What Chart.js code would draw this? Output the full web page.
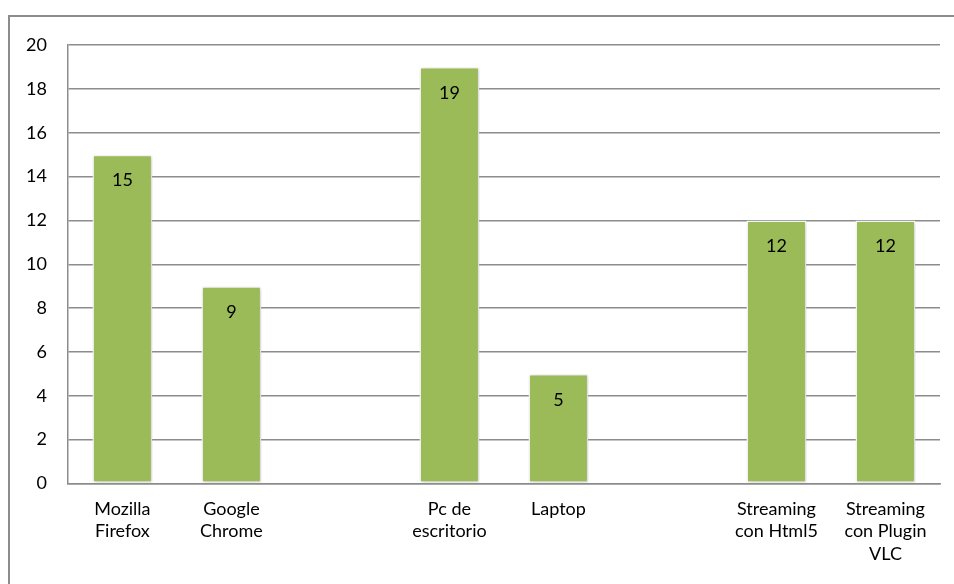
<!DOCTYPE html>
<html>
<head>
<meta charset="utf-8">
<script src="https://cdn.jsdelivr.net/npm/chart.js@4/dist/chart.umd.min.js"></script>
<style>
  html, body { margin: 0; padding: 0; background: #fff; }
  #wrap { position: relative; width: 954px; height: 584px; overflow: hidden; }
  #frame { position: absolute; left: 8px; top: 15px; width: 960px; height: 600px;
           border-top: 2px solid #8c8c8c; border-left: 2px solid #8c8c8c; }
  canvas { position: absolute; left: 0; top: 0; }
</style>
</head>
<body>
<div id="wrap">
  <div id="frame"></div>
  <canvas id="chart" width="954" height="584"></canvas>
</div>
<script>
// categorias (las vacias dejan el hueco entre grupos)
var categorias = [
  ['Mozilla', 'Firefox'],
  ['Google', 'Chrome'],
  '',
  ['Pc de', 'escritorio'],
  'Laptop',
  '',
  ['Streaming', 'con Html5'],
  ['Streaming', 'con Plugin', 'VLC']
];
var valores = [15, 9, null, 19, 5, null, 12, 12];
var ticksY = [0, 2, 4, 6, 8, 10, 12, 14, 16, 18, 20];

var fuente = 'Lato, "Open Sans", sans-serif';

// etiqueta de valor dentro de la barra, arriba
var etiquetas = {
  id: 'etiquetas',
  afterDatasetsDraw: function (chart) {
    var ctx = chart.ctx;
    var meta = chart.getDatasetMeta(0);
    ctx.save();
    ctx.fillStyle = '#000';
    ctx.font = '18px ' + fuente;
    ctx.textAlign = 'center';
    ctx.textBaseline = 'middle';
    meta.data.forEach(function (bar, i) {
      if (valores[i] == null) return;
      ctx.fillText(String(valores[i]), bar.x, bar.y + 26);
    });
    ctx.restore();
  }
};

// sombra suave de las barras
var sombra = {
  id: 'sombra',
  beforeDatasetsDraw: function (chart) {
    var ctx = chart.ctx;
    ctx.save();
    ctx.shadowColor = 'rgba(0,0,0,0.22)';
    ctx.shadowBlur = 4;
    ctx.shadowOffsetX = 1;
    ctx.shadowOffsetY = 1;
  },
  afterDatasetsDraw: function (chart) {
    chart.ctx.restore();
  }
};

var ctx = document.getElementById('chart').getContext('2d');
new Chart(ctx, {
  type: 'bar',
  data: {
    labels: categorias,
    datasets: [{
      data: valores,
      backgroundColor: '#9bbb59',
      borderColor: '#ffffff',
      borderWidth: 1.5,
      borderSkipped: false,
      categoryPercentage: 1,
      barPercentage: 0.55
    }]
  },
  options: {
    responsive: false,
    animation: false,
    events: [],
    layout: { padding: { left: 5, right: 14, top: 45, bottom: 5 } },
    plugins: {
      legend: { display: false },
      tooltip: { enabled: false }
    },
    scales: {
      x: {
        grid: { display: false, drawTicks: false },
        border: { display: true, color: '#8c8c8c', width: 1.5 },
        ticks: {
          color: '#000',
          padding: 14,
          maxRotation: 0,
          autoSkip: false,
          font: { family: fuente, size: 18, lineHeight: 1.25 }
        }
      },
      y: {
        min: 0,
        max: 20,
        afterBuildTicks: function (axis) {
          axis.ticks = ticksY.map(function (v) { return { value: v }; });
        },
        grid: { color: '#8c8c8c', lineWidth: 1.5, drawTicks: false },
        border: { display: true, color: '#8c8c8c', width: 1.5 },
        ticks: {
          color: '#000',
          padding: 21,
          font: { family: fuente, size: 18 }
        }
      }
    }
  },
  plugins: [sombra, etiquetas]
});
</script>
</body>
</html>
